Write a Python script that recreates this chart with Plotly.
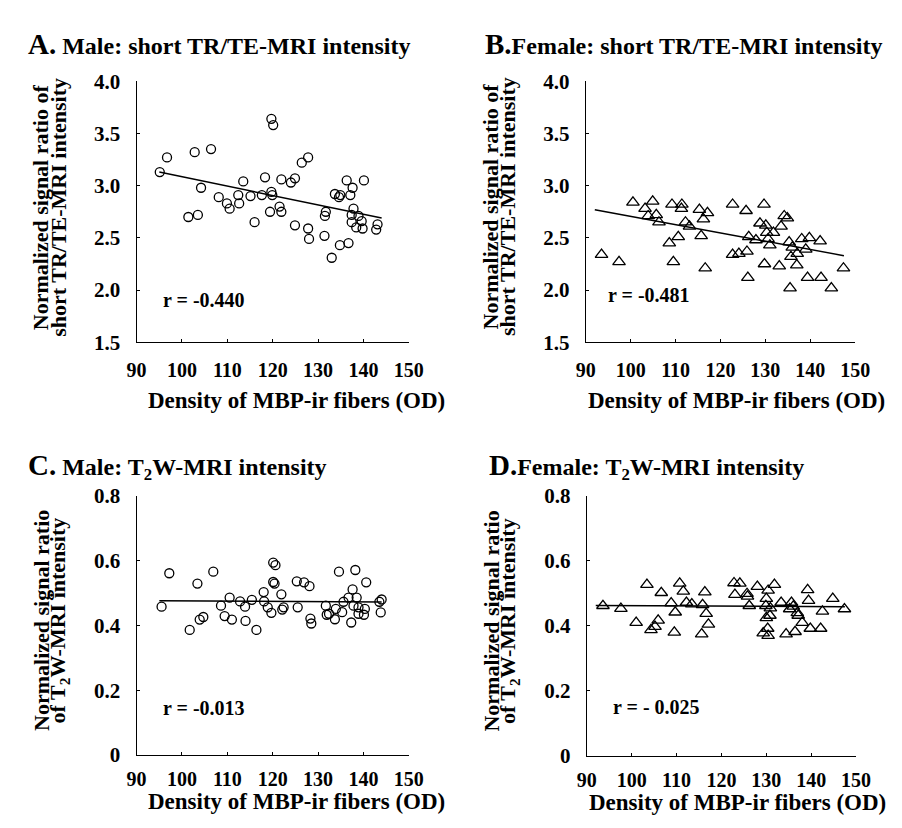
import plotly.graph_objects as go

W, H = 902, 828

# ---------------- data ----------------
male_short_x = [95.1, 96.7, 101.4, 103.5, 102.8, 104.2, 106.4, 108.1, 109.9, 110.5, 112.4, 112.6, 113.5,
                115.1, 116.0, 117.6, 118.3, 119.4, 119.7, 119.9, 119.7, 120.1, 121.5, 121.9, 121.9, 124.0,
                124.9, 124.9, 126.4, 127.8, 127.8, 128.0, 131.5, 131.7, 131.4, 133.0, 134.8, 136.7, 133.7,
                134.6, 134.9, 136.3, 137.6, 137.1, 140.1, 137.8, 137.4, 138.9, 139.6, 137.4, 138.4, 139.8,
                142.8, 143.1]
male_short_y = [3.13, 3.27, 2.70, 2.72, 3.32, 2.98, 3.35, 2.89, 2.83, 2.78, 2.91, 2.83, 3.04,
                2.90, 2.65, 2.91, 3.08, 2.75, 2.94, 2.91, 3.64, 3.58, 2.80, 2.75, 3.06, 3.03,
                3.07, 2.62, 3.22, 3.27, 2.59, 2.49, 2.71, 2.75, 2.52, 2.31, 2.43, 2.45, 2.92,
                2.89, 2.91, 3.05, 2.98, 2.91, 3.05, 2.78, 2.72, 2.71, 2.66, 2.65, 2.60, 2.59,
                2.58, 2.63]

female_short_x = [93.5, 97.4, 100.5, 103.2, 104.9, 103.9, 105.7, 106.3, 108.6, 109.2, 109.5, 110.6, 111.4,
                  111.3, 112.2, 113.1, 115.3, 115.7, 116.2, 117.1, 116.6, 122.7, 122.7, 124.1, 125.7, 125.9,
                  126.3, 126.1, 127.9, 129.7, 128.8, 130.1, 130.3, 130.6, 131.0, 129.8, 131.8, 133.5, 134.2,
                  134.9, 133.1, 135.3, 136.0, 135.7, 137.1, 137.0, 135.5, 138.1, 139.8, 139.0, 139.4, 142.2,
                  142.4, 144.7, 147.4]
female_short_y = [2.34, 2.27, 2.84, 2.78, 2.85, 2.71, 2.72, 2.65, 2.45, 2.82, 2.27, 2.51, 2.82,
                  2.78, 2.65, 2.61, 2.77, 2.52, 2.68, 2.74, 2.21, 2.82, 2.34, 2.35, 2.76, 2.37,
                  2.51, 2.12, 2.48, 2.82, 2.64, 2.62, 2.55, 2.49, 2.43, 2.25, 2.55, 2.61, 2.71,
                  2.69, 2.23, 2.46, 2.41, 2.32, 2.35, 2.24, 2.02, 2.49, 2.50, 2.39, 2.12, 2.47,
                  2.12, 2.02, 2.21]

male_t2_x = [95.5, 97.2, 101.7, 103.4, 103.9, 104.7, 106.9, 108.6, 109.4, 110.5, 111.0, 112.8, 113.9,
             114.0, 115.4, 116.4, 118.0, 118.1, 118.9, 119.7, 120.1, 120.6, 120.1, 120.4, 121.9, 122.1,
             122.4, 125.3, 125.5, 126.9, 128.1, 128.3, 128.5, 131.7, 131.9, 132.4, 133.9, 133.7, 135.3,
             135.6, 134.6, 136.7, 137.6, 138.2, 138.5, 137.8, 138.9, 140.3, 140.6, 140.1, 137.3, 138.9,
             143.5, 143.8, 144.0]
male_t2_y = [0.458, 0.561, 0.386, 0.529, 0.418, 0.426, 0.566, 0.461, 0.429, 0.486, 0.418, 0.474, 0.458,
             0.414, 0.479, 0.386, 0.503, 0.474, 0.456, 0.439, 0.594, 0.586, 0.534, 0.529, 0.496, 0.449,
             0.456, 0.536, 0.456, 0.533, 0.521, 0.421, 0.406, 0.461, 0.433, 0.436, 0.451, 0.419, 0.441,
             0.473, 0.566, 0.486, 0.511, 0.571, 0.486, 0.461, 0.456, 0.451, 0.533, 0.433, 0.409, 0.436,
             0.473, 0.440, 0.480]

female_t2_x = [93.6, 97.6, 101.0, 103.4, 104.3, 105.2, 105.9, 106.6, 108.8, 109.5, 109.7, 110.7, 111.5,
               112.2, 113.4, 115.6, 115.8, 116.3, 116.6, 117.1, 122.8, 124.1, 123.0, 125.7, 125.8, 126.2,
               128.0, 129.3, 129.9, 130.0, 130.4, 130.3, 130.4, 130.0, 130.8, 130.9, 131.8, 133.3, 134.4,
               135.2, 135.6, 136.0, 136.4, 136.9, 137.1, 138.0, 139.2, 139.4, 139.8, 142.1, 142.5, 144.8,
               147.4]
female_t2_y = [0.462, 0.453, 0.410, 0.527, 0.388, 0.398, 0.417, 0.502, 0.470, 0.380, 0.442, 0.531, 0.506,
               0.472, 0.467, 0.375, 0.465, 0.504, 0.438, 0.405, 0.532, 0.531, 0.496, 0.499, 0.491, 0.462,
               0.521, 0.378, 0.462, 0.484, 0.509, 0.392, 0.370, 0.425, 0.432, 0.455, 0.527, 0.472, 0.375,
               0.452, 0.472, 0.460, 0.382, 0.440, 0.432, 0.410, 0.511, 0.478, 0.392, 0.392, 0.445, 0.484,
               0.452]

# regression lines (end points)
fit_male_short_x = [95.0, 144.0]
fit_male_short_y = [3.13, 2.69]
fit_female_short_x = [92.0, 147.5]
fit_female_short_y = [2.77, 2.33]
fit_male_t2_x = [95.0, 144.0]
fit_male_t2_y = [0.476, 0.472]
fit_female_t2_x = [92.0, 147.5]
fit_female_t2_y = [0.463, 0.459]

r_labels = ["r = -0.440", "r = -0.481", "r = -0.013", "r = - 0.025"]
titles = [("A.", " Male: short TR/TE-MRI intensity"),
          ("B.", "Female: short TR/TE-MRI intensity"),
          ("C.", " Male: T<sub>2</sub>W-MRI intensity"),
          ("D.", "Female: T<sub>2</sub>W-MRI intensity")]
ytitle_short = ["Normalized signal ratio of", "short TR/TE-MRI intensity"]
ytitle_t2 = ["Normalized signal ratio", "of T<sub>2</sub>W-MRI intensity"]
xtitle = "Density of MBP-ir fibers (OD)"
x_ticks = [90, 100, 110, 120, 130, 140, 150]
y_ticks_short = [1.5, 2.0, 2.5, 3.0, 3.5, 4.0]
y_ticks_t2 = [0, 0.2, 0.4, 0.6, 0.8]
y_ticktext_t2 = ["0", "0.2", "0.4", "0.6", "0.8"]

# ---------------- layout helpers ----------------
FONT = "Liberation Serif"


def fx(px):
    return px / W


def fy(py):
    return 1 - py / H


# panel boxes in pixels: (left, right, top, bottom)
boxes = {
    1: (122, 402, 63, 332),
    2: (584, 861, 63, 332),
    3: (122, 402, 490, 757),
    4: (585, 862, 490, 758),
}

fig = go.Figure()

panels = [
    (1, male_short_x, male_short_y, fit_male_short_x, fit_male_short_y, "circle-open", 9),
    (2, female_short_x, female_short_y, fit_female_short_x, fit_female_short_y, "triangle-up-open", 11),
    (3, male_t2_x, male_t2_y, fit_male_t2_x, fit_male_t2_y, "circle-open", 9),
    (4, female_t2_x, female_t2_y, fit_female_t2_x, fit_female_t2_y, "triangle-up-open", 11),
]

for idx, xs, ys, lx, ly, sym, sz in panels:
    xa = "x" if idx == 1 else f"x{idx}"
    ya = "y" if idx == 1 else f"y{idx}"
    fig.add_trace(go.Scatter(x=lx, y=ly, mode="lines", line=dict(color="black", width=1.5),
                             xaxis=xa, yaxis=ya, showlegend=False, hoverinfo="skip"))
    fig.add_trace(go.Scatter(x=xs, y=ys, mode="markers",
                             marker=dict(symbol=sym, size=sz, color="black", line=dict(width=1.3, color="black")),
                             xaxis=xa, yaxis=ya, showlegend=False))

axis_common = dict(showline=True, linecolor="black", linewidth=1.3, ticks="inside", ticklen=3,
                   tickcolor="black", showgrid=False, zeroline=False)

layout = dict(width=W, height=H, margin=dict(l=0, r=0, t=0, b=0),
              paper_bgcolor="white", plot_bgcolor="white", showlegend=False)

for idx, (l, r, t, b) in boxes.items():
    xk = "xaxis" if idx == 1 else f"xaxis{idx}"
    yk = "yaxis" if idx == 1 else f"yaxis{idx}"
    ya = "y" if idx == 1 else f"y{idx}"
    xa = "x" if idx == 1 else f"x{idx}"
    short = idx in (1, 2)
    layout[xk] = dict(axis_common, domain=[fx(l), fx(r)], range=[90, 150], tickvals=x_ticks,
                      anchor=ya, ticklabelstandoff=9 if short else 6,
                      tickfont=dict(family=FONT, size=20, color="black", weight="bold"))
    if short:
        layout[yk] = dict(axis_common, domain=[fy(b), fy(t)], range=[1.5, 4.0], tickvals=y_ticks_short,
                          tickformat=".1f", anchor=xa, ticklabelstandoff=11,
                          tickfont=dict(family=FONT, size=21, color="black", weight="bold"))
    else:
        layout[yk] = dict(axis_common, domain=[fy(b), fy(t)], range=[0, 0.8], tickvals=y_ticks_t2,
                          ticktext=y_ticktext_t2, anchor=xa, ticklabelstandoff=11,
                          tickfont=dict(family=FONT, size=21, color="black", weight="bold"))

fig.update_layout(**layout)

ann = []
# panel titles
title_pos = [(8, 25), (478, 25), (8, 460), (482, 460)]
for (big, rest), (px, py) in zip(titles, title_pos):
    ann.append(dict(xref="paper", yref="paper", x=fx(px), y=fy(py), xanchor="left", yanchor="middle",
                    text=f"<b><span style='font-size:29px'>{big}</span>{rest}</b>", showarrow=False,
                    font=dict(family=FONT, size=24, color="black")))

# y-axis titles (two rotated lines each) and x-axis titles
for idx, (l, r, t, b) in boxes.items():
    lines = ytitle_short if idx in (1, 2) else ytitle_t2
    cy = (t + b) / 2 - 5
    for k, line in enumerate(lines):
        ann.append(dict(xref="paper", yref="paper", x=fx(l - 98 + 18 * k), y=fy(cy),
                        xanchor="center", yanchor="middle", textangle=-90,
                        text=f"<b>{line}</b>", showarrow=False,
                        font=dict(family=FONT, size=22, color="black")))
    x_off = 10 if idx in (1, 3) else 0
    y_off = 60 if idx in (1, 2) else 48
    ann.append(dict(xref="paper", yref="paper", x=fx(l + x_off), y=fy(b + y_off), xanchor="left",
                    yanchor="middle", text=f"<b>{xtitle}</b>", showarrow=False,
                    font=dict(family=FONT, size=23, color="black")))

# r labels in data coordinates
r_pos = [(95.3, 1.91), (94.5, 1.95), (95.3, 0.145), (95.4, 0.152)]
for idx, (lab, (rx, ry)) in enumerate(zip(r_labels, r_pos), start=1):
    xa = "x" if idx == 1 else f"x{idx}"
    ya = "y" if idx == 1 else f"y{idx}"
    ann.append(dict(xref=xa, yref=ya, x=rx, y=ry, xanchor="left", yanchor="middle",
                    text=f"<b>{lab}</b>", showarrow=False,
                    font=dict(family=FONT, size=20, color="black")))

fig.update_layout(annotations=ann)
fig.write_html("out.html")
